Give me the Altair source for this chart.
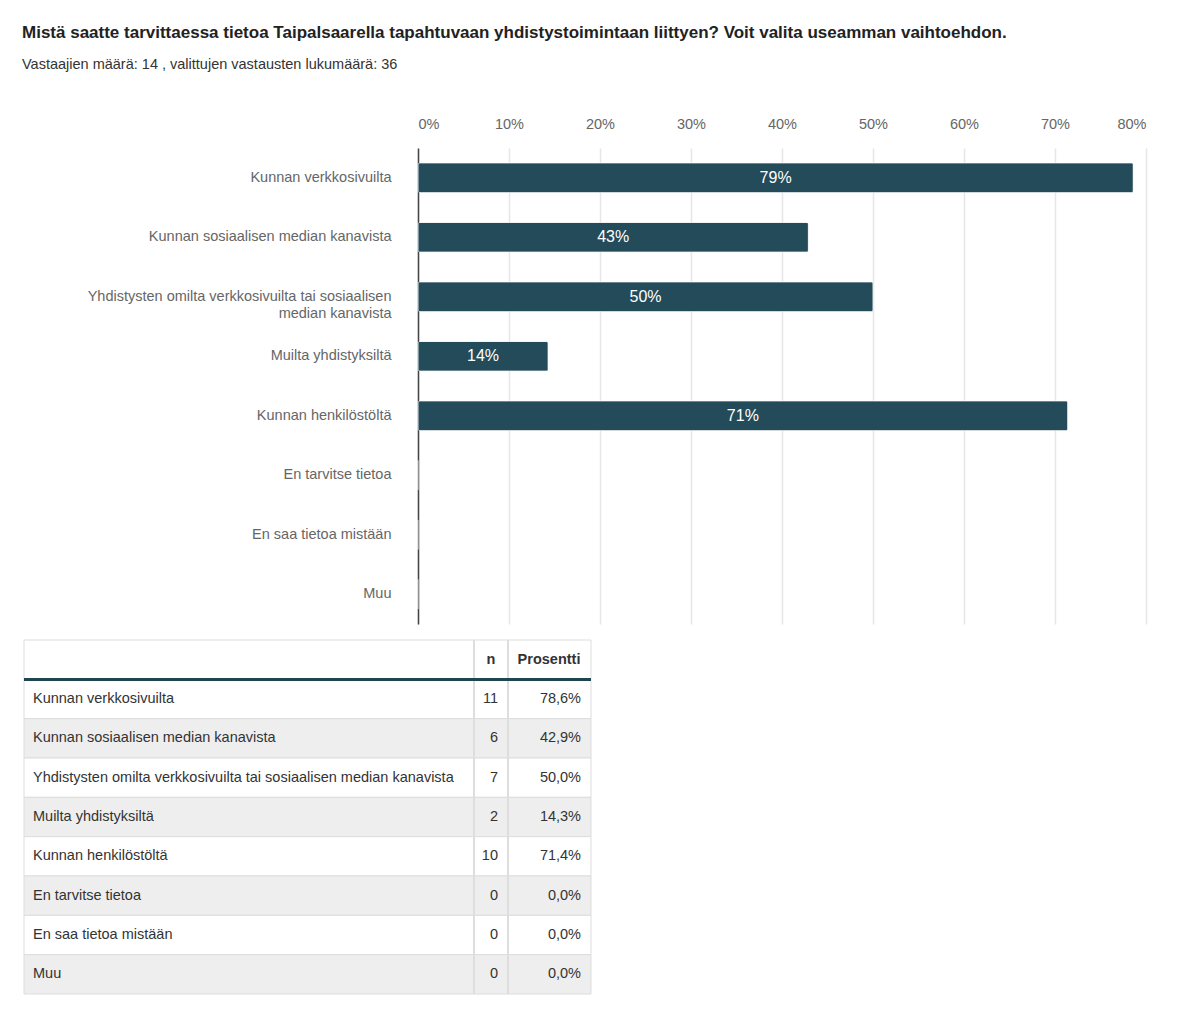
import altair as alt
import pandas as pd

categories = [
    "Kunnan verkkosivuilta",
    "Kunnan sosiaalisen median kanavista",
    "Yhdistysten omilta verkkosivuilta tai sosiaalisen median kanavista",
    "Muilta yhdistyksiltä",
    "Kunnan henkilöstöltä",
    "En tarvitse tietoa",
    "En saa tietoa mistään",
    "Muu",
]
counts = [11, 6, 7, 2, 10, 0, 0, 0]
percents = [78.6, 42.9, 50.0, 14.3, 71.4, 0.0, 0.0, 0.0]
x_ticks = [0, 10, 20, 30, 40, 50, 60, 70, 80]

title_text = "Mistä saatte tarvittaessa tietoa Taipalsaarella tapahtuvaan yhdistystoimintaan liittyen?  Voit valita useamman vaihtoehdon."
subtitle_text = "Vastaajien määrä: 14 , valittujen vastausten lukumäärä: 36"

FONT = "Liberation Sans"
BAR = "#244b5a"
FS = 14.5

df = pd.DataFrame({"cat": categories, "n": counts, "pct": percents})
df["lbl"] = [f"{round(p)}%" if p > 0 else "" for p in percents]

label_expr = (
    "length(datum.label) > 45 ? "
    "[slice(datum.label, 0, lastindexof(slice(datum.label, 0, 50), ' ')), "
    "slice(datum.label, lastindexof(slice(datum.label, 0, 50), ' ') + 1)] : datum.label"
)

y_enc = alt.Y(
    "cat:N",
    sort=categories,
    title=None,
    scale=alt.Scale(paddingInner=0.5, paddingOuter=0.25),
    axis=alt.Axis(
        ticks=False,
        domain=True,
        domainColor="#444444",
        domainWidth=1.5,
        labelPadding=27,
        labelFontSize=FS,
        labelColor="#666666",
        labelFont=FONT,
        labelLimit=400,
        labelLineHeight=17,
        labelExpr=label_expr,
        minExtent=396,
        grid=False,
    ),
)

x_enc = alt.X(
    "pct:Q",
    title=None,
    scale=alt.Scale(domain=[0, 80], nice=False),
    axis=alt.Axis(
        orient="top",
        values=x_ticks,
        labelExpr="datum.value + '%'",
        ticks=False,
        domain=False,
        labelPadding=17,
        labelFontSize=FS,
        labelColor="#666666",
        labelFont=FONT,
        grid=True,
        gridColor="#e6e6e6",
        gridWidth=1.5,
    ),
)

bars = alt.Chart(df).mark_bar(
    color=BAR, cornerRadius=2, stroke="#ffffff", strokeWidth=0.5
).encode(x=x_enc, y=y_enc)

bar_text = alt.Chart(df).transform_calculate(mid="datum.pct / 2").mark_text(
    color="white", fontSize=16, font=FONT, baseline="middle"
).encode(
    x=alt.X("mid:Q"),
    y=alt.Y("cat:N", sort=categories),
    text="lbl:N",
)

bar_chart = alt.layer(bars, bar_text).properties(width=728, height=476)

# ---- table ----
row_keys = ["__header__"] + categories
tdf = pd.DataFrame({
    "row": row_keys,
    "idx": list(range(len(row_keys))),
    "label": [""] + categories,
    "n_txt": ["n"] + [str(c) for c in counts],
    "p_txt": ["Prosentti"] + [f"{p:.1f}".replace(".", ",") + "%" for p in percents],
})
tdf["shade"] = ["white" if (i == 0 or i % 2 == 1) else "gray" for i in tdf["idx"]]

OFF = -394
TW = 567
TH = 354
ROW_H = TH / len(row_keys)
C1 = 450
C2 = 484
ty = alt.Y("row:N", sort=row_keys, axis=None, scale=alt.Scale(paddingInner=0, paddingOuter=0))

base_t = alt.Chart(tdf)
cells = base_t.mark_rect(stroke="#dddddd", strokeWidth=1).encode(
    y=ty,
    x=alt.value(OFF),
    x2=alt.value(OFF + TW),
    fill=alt.Fill("shade:N", scale=alt.Scale(domain=["white", "gray"], range=["#ffffff", "#eeeeee"]), legend=None),
)
col1 = base_t.mark_rule(color="#dddddd", strokeWidth=1).encode(
    x=alt.value(OFF + C1), y=alt.value(0), y2=alt.value(TH)
)
col2 = base_t.mark_rule(color="#dddddd", strokeWidth=1).encode(
    x=alt.value(OFF + C2), y=alt.value(0), y2=alt.value(TH)
)
header_line = base_t.mark_rule(color="#1f4452", strokeWidth=2.5).encode(
    y=alt.value(ROW_H), x=alt.value(OFF), x2=alt.value(OFF + TW)
)
label_t = base_t.transform_filter("datum.idx > 0").mark_text(
    align="left", baseline="middle", fontSize=FS, font=FONT, color="#333333"
).encode(y=ty, x=alt.value(OFF + 9), text="label:N")
n_body = base_t.transform_filter("datum.idx > 0").mark_text(
    align="right", baseline="middle", fontSize=FS, font=FONT, color="#333333"
).encode(y=ty, x=alt.value(OFF + 474), text="n_txt:N")
p_body = base_t.transform_filter("datum.idx > 0").mark_text(
    align="right", baseline="middle", fontSize=FS, font=FONT, color="#333333"
).encode(y=ty, x=alt.value(OFF + 557), text="p_txt:N")
n_head = base_t.transform_filter("datum.idx == 0").mark_text(
    align="center", baseline="middle", fontSize=FS, font=FONT, fontWeight="bold", color="#333333"
).encode(y=ty, x=alt.value(OFF + 467), text="n_txt:N")
p_head = base_t.transform_filter("datum.idx == 0").mark_text(
    align="center", baseline="middle", fontSize=FS, font=FONT, fontWeight="bold", color="#333333"
).encode(y=ty, x=alt.value(OFF + 525), text="p_txt:N")

table = alt.layer(
    cells, col1, col2, header_line, label_t, n_body, p_body, n_head, p_head
).properties(width=TW + OFF, height=TH)

chart = alt.vconcat(bar_chart, table, spacing=15).properties(
    title=alt.TitleParams(
        text=title_text,
        subtitle=subtitle_text,
        anchor="start",
        font=FONT,
        fontSize=17,
        fontWeight="bold",
        color="#222222",
        subtitleFont=FONT,
        subtitleFontSize=14.5,
        subtitleColor="#333333",
        subtitlePadding=16,
        offset=44,
    ),
    padding={"left": 14, "top": 15, "right": 10, "bottom": 10},
).configure_view(stroke=None)

chart.save("out.html", embed_options={"renderer": "svg", "actions": False})
